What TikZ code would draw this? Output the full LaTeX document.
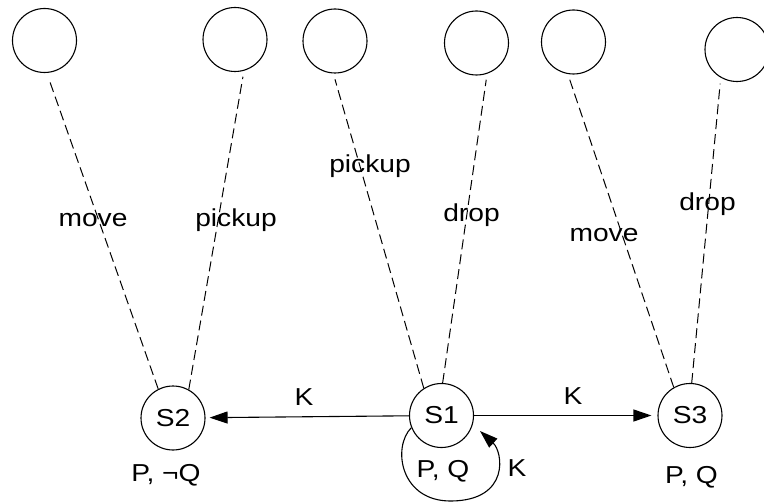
\documentclass[tikz,border=0pt]{standalone}
\usepackage{fontspec}
\setmainfont{Liberation Sans}
\usetikzlibrary{arrows.meta}
\newcommand\wtx[1]{\scalebox{1.15}[1]{#1}}
\tikzset{
  st/.style={circle,draw,line width=1.1pt,minimum size=64pt,inner sep=0pt,font=\fontsize{24.5}{28}\selectfont},
  tx/.style={inner sep=0pt,anchor=base,font=\fontsize{24.5}{28}\selectfont},
  dl/.style={line width=1pt,dash pattern=on 10pt off 5pt,shorten >=6pt},
  ar/.style={line width=1.1pt,-{Triangle[length=18pt,width=12pt]}},
}
\begin{document}
\begin{tikzpicture}[x=1pt,y=-1pt]
\useasboundingbox (0,0) rectangle (764,503);
% top circles
\node[st] (t1) at (44.5,40.5) {};
\node[st] (t2) at (235,39.5) {};
\node[st] (t3) at (335,41) {};
\node[st] (t4) at (476.5,43) {};
\node[st] (t5) at (573.5,42) {};
\node[st] (t6) at (737,49.5) {};
% state circles
\node[st] (S2) at (173,418) {\wtx{S2}};
\node[st] (S1) at (441.5,415.5) {\wtx{S1}};
\node[st] (S3) at (690,415.5) {\wtx{S3}};
% dashed lines
\draw[dl] (S2.117) -- (t1.274);
\draw[dl] (S2.61.5) -- (t2.286);
\draw[dl] (S1.123) -- (t3.267);
\draw[dl] (S1.88) -- (t4.289);
\draw[dl] (S3.120.5) -- (t5.260);
\draw[dl] (S3.87) -- (t6.240);
% line labels
\node[tx] (l1) at (93,226) {\wtx{move}};
\node[tx] (l2) at (236,226.5) {\wtx{pickup}};
\node[tx] (l3) at (370,172) {\wtx{pickup}};
\node[tx] (l4) at (471.5,221.5) {\wtx{drop}};
\node[tx] (l5) at (604,241.5) {\wtx{move}};
\node[tx] (l6) at (707.5,210) {\wtx{drop}};
% K arrows
\draw[ar,shorten >=4pt] (S1) -- (S2);
\draw[ar,shorten >=6pt] (S1) -- (S3);
\node[tx] (k1) at (304,405) {\wtx{K}};
\node[tx] (k2) at (573,404) {\wtx{K}};
% self loop
\coordinate (lt) at (480,431);
\draw[ar] (S1.202) .. controls (392,447) and (400,502) .. (452,501)
  .. controls (510,500) and (503,452) .. (lt);
\node[tx] (k3) at (517,476) {\wtx{K}};
% state labels
\node[tx] (p2) at (166,481) {\wtx{P, ¬Q}};
\node[tx] (p1) at (443,477) {\wtx{P, Q}};
\node[tx] (p3) at (691.5,483) {\wtx{P, Q}};
\end{tikzpicture}
\end{document}
